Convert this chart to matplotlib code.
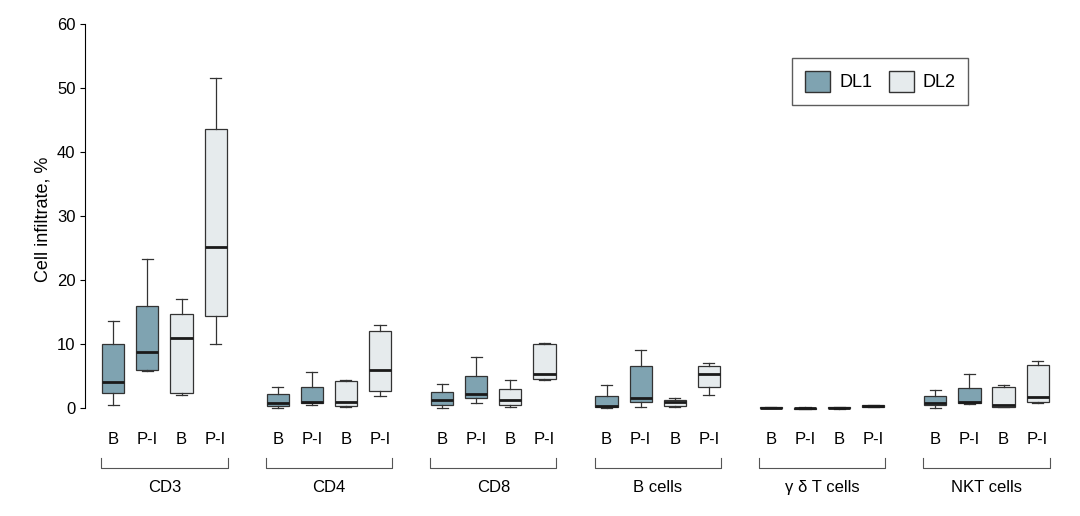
import matplotlib
matplotlib.use("Agg")
import matplotlib.pyplot as plt
import matplotlib.transforms as mtransforms
from matplotlib.patches import Patch

plt.rcParams.update({"font.family": "Liberation Sans", "font.size": 12})

groups = ["CD3", "CD4", "CD8", "B cells", "γ δ T cells", "NKT cells"]
box_labels = ["B", "P-I", "B", "P-I"]
# each row: (whislo, q1, med, q3, whishi) for DL1 B, DL1 P-I, DL2 B, DL2 P-I
cd3 = [(0.5, 2.3, 4.0, 10.0, 13.6), (5.7, 6.0, 8.7, 16.0, 23.2),
       (2.0, 2.3, 11.0, 14.7, 17.0), (10.0, 14.3, 25.2, 43.6, 51.6)]
cd4 = [(0.0, 0.3, 0.7, 2.2, 3.2), (0.5, 0.8, 1.0, 3.2, 5.6),
       (0.2, 0.3, 1.0, 4.2, 4.3), (1.8, 2.7, 6.0, 12.0, 13.0)]
cd8 = [(0.0, 0.5, 1.2, 2.5, 3.8), (0.8, 1.5, 2.2, 5.0, 7.9),
       (0.2, 0.5, 1.2, 3.0, 4.3), (4.3, 4.6, 5.3, 10.0, 10.2)]
bcells = [(0.0, 0.1, 0.3, 1.9, 3.6), (0.2, 1.0, 1.5, 6.5, 9.1),
          (0.2, 0.3, 1.0, 1.3, 1.6), (2.1, 3.2, 5.3, 6.5, 7.1)]
gdt = [(0.0, 0.0, 0.05, 0.1, 0.1), (-0.1, -0.1, -0.05, 0.05, 0.1),
       (-0.1, 0.0, 0.05, 0.15, 0.2), (0.1, 0.2, 0.3, 0.4, 0.5)]
nkt = [(0.0, 0.5, 0.7, 1.9, 2.8), (0.6, 0.8, 0.9, 3.1, 5.3),
       (0.1, 0.2, 0.4, 3.3, 3.6), (0.7, 1.0, 1.7, 6.7, 7.4)]
data = [cd3, cd4, cd8, bcells, gdt, nkt]
series = ["DL1", "DL1", "DL2", "DL2"]
colors = {"DL1": "#7fa3b1", "DL2": "#e6ebed"}

fig, ax = plt.subplots(figsize=(10.8, 5.16), dpi=100)
fig.subplots_adjust(left=0.079, right=0.975, top=0.9535, bottom=0.197)

step = 4.82
for g, rows in enumerate(data):
    for i, r in enumerate(rows):
        st = dict(whislo=r[0], q1=r[1], med=r[2], q3=r[3], whishi=r[4], fliers=[])
        ax.bxp([st], positions=[g * step + i], widths=0.65, patch_artist=True,
               showfliers=False,
               boxprops=dict(facecolor=colors[series[i]], edgecolor="#333333", linewidth=0.9),
               medianprops=dict(color="#1a1a1a", linewidth=2),
               whiskerprops=dict(color="#333333", linewidth=0.9),
               capprops=dict(color="#333333", linewidth=0.9))

ticks = [g * step + i for g in range(len(groups)) for i in range(4)]
ax.set_xticks(ticks)
ax.set_xticklabels(box_labels * len(groups))
ax.tick_params(axis="x", length=0, pad=13)
ax.set_xlim(-0.82, 5 * step + 3.45)
ax.set_ylim(-1, 60)
ax.set_yticks(range(0, 61, 10))
ax.set_ylabel("Cell infiltrate, %", fontsize=13)
for s in ["top", "right", "bottom"]:
    ax.spines[s].set_visible(False)
ax.spines["left"].set_bounds(0, 60)

trans = mtransforms.blended_transform_factory(ax.transData, ax.transAxes)
for g, name in enumerate(groups):
    x0, x1 = g * step - 0.35, g * step + 3.35
    y0, y1 = -0.112, -0.137
    ax.plot([x0, x0, x1, x1], [y0, y1, y1, y0], color="#555555", lw=0.8,
            transform=trans, clip_on=False)
    ax.text(g * step + 1.5, -0.168, name, ha="center", va="top", transform=trans)

handles = [Patch(facecolor=colors["DL1"], edgecolor="#333333", label="DL1"),
           Patch(facecolor=colors["DL2"], edgecolor="#333333", label="DL2")]
ax.legend(handles=handles, ncol=2, loc="upper right", bbox_to_anchor=(0.922, 0.935),
          frameon=True, fancybox=False, edgecolor="#333333", fontsize=13,
          handlelength=1.4, handleheight=1.4, borderpad=0.7, columnspacing=0.9,
          handletextpad=0.5)

fig.savefig("out.png", dpi=100)
